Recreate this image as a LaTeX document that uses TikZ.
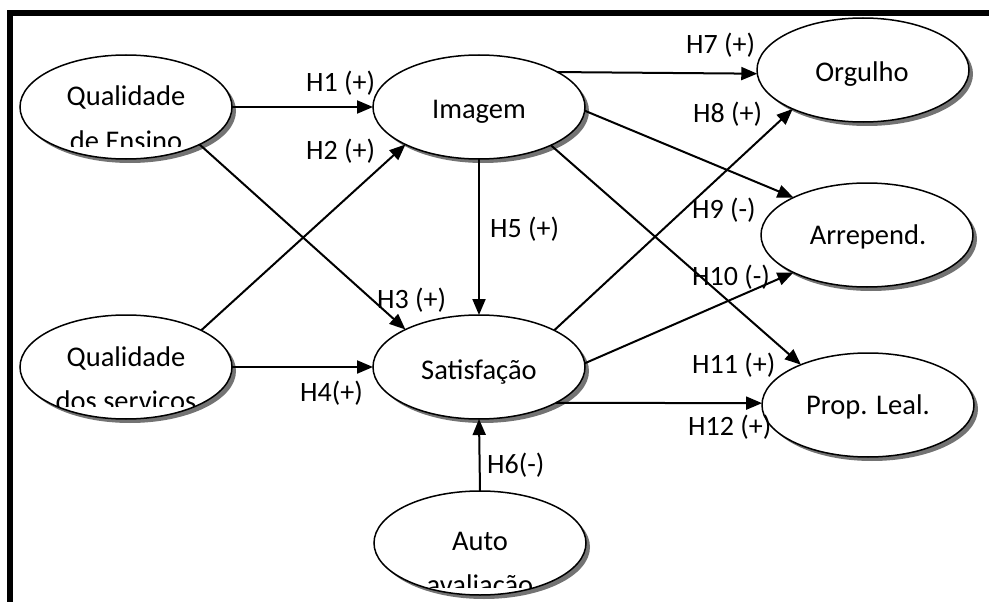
\documentclass[tikz,border=0pt]{standalone}
\usepackage{fontspec}
\setmainfont{Carlito}
\usetikzlibrary{shapes.geometric,arrows.meta,shadows}
\begin{document}
\begin{tikzpicture}[x=1pt,y=-1pt,
  ell/.style={ellipse,draw,line width=1.5pt,fill=white,minimum width=212pt,minimum height=104pt,inner sep=0pt,outer sep=0pt,
    drop shadow={shadow xshift=4pt,shadow yshift=-4pt,fill=black!55,opacity=1}},
  txt/.style={font=\fontsize{28.5}{34}\selectfont,inner sep=0pt,anchor=base},
  lab/.style={font=\fontsize{28}{34}\selectfont,inner sep=0pt,anchor=base west},
  arr/.style={line width=2pt,-{Triangle[length=16pt,width=13pt]}}]
\useasboundingbox (0,0) rectangle (989,602);
% frame
\draw[line width=6pt] (10,602) -- (10,13) -- (989,13);
% ellipses
\node[ell] (qe) at (126,107) {};
\node[ell] (qs) at (126,367) {};
\node[ell] (im) at (479,107) {};
\node[ell] (sa) at (479,367) {};
\node[ell] (au) at (480,543) {};
\node[ell] (or) at (863,70) {};
\node[ell] (ar) at (867,235) {};
\node[ell] (pl) at (868,405) {};
% texts
\node[txt] (tqe1) at (126,106) {Qualidade};
\begin{scope}
\clip (20,50) rectangle (232,146);
\node[txt] (tqe2) at (126,150) {de Ensino};
\end{scope}
\node[txt] (tqs1) at (126,366) {Qualidade};
\begin{scope}
\clip (20,310) rectangle (232,406);
\node[txt] (tqs2) at (126,410) {dos servicos};
\end{scope}
\node[txt] (tau1) at (480,550) {Auto};
\begin{scope}
\clip (373,490) rectangle (587,587);
\node[txt] (tau2) at (480,594) {avaliação};
\end{scope}
\node[txt] (tim) at (479,119) {Imagem};
\node[txt] (tsa) at (479,379) {Satisfação};
\node[txt] (tor) at (862,82) {Orgulho};
\node[txt] (tar) at (868,244) {Arrepend.};
\node[txt] (tpl) at (868,414) {Prop. Leal.};
% connectors
\draw[arr] (qe.east) -- (im.west);
\draw[arr] (qs.26) -- (im.207);
\draw[arr] (qe.333) -- (sa.153);
\draw[arr] (qs.east) -- (sa.west);
\draw[arr] (im.south) -- (sa.north);
\draw[arr] (au.north) -- (sa.south);
\draw[arr] (im.24) -- (or.182);
\draw[arr] (sa.26) -- (or.209);
\draw[arr] (im.358) -- (ar.153);
\draw[arr] (sa.2) -- (ar.207);
\draw[arr] (im.332) -- (pl.149);
\draw[arr] (sa.335) -- (pl.179);
% labels
\node[lab] (h1) at (306,92) {H1 (+)};
\node[lab] (h2) at (306,160) {H2 (+)};
\node[lab] (h3) at (377,308) {H3 (+)};
\node[lab] (h4) at (300,401) {H4(+)};
\node[lab] (h5) at (490,237) {H5 (+)};
\node[lab] (h6) at (487,473) {H6(-)};
\node[lab] (h7) at (686,54) {H7 (+)};
\node[lab] (h8) at (693,123) {H8 (+)};
\node[lab] (h9) at (692,218) {H9 (-)};
\node[lab] (h10) at (692,285) {H10 (-)};
\node[lab] (h11) at (692,373) {H11 (+)};
\node[lab] (h12) at (688,435) {H12 (+)};
\end{tikzpicture}
\end{document}
